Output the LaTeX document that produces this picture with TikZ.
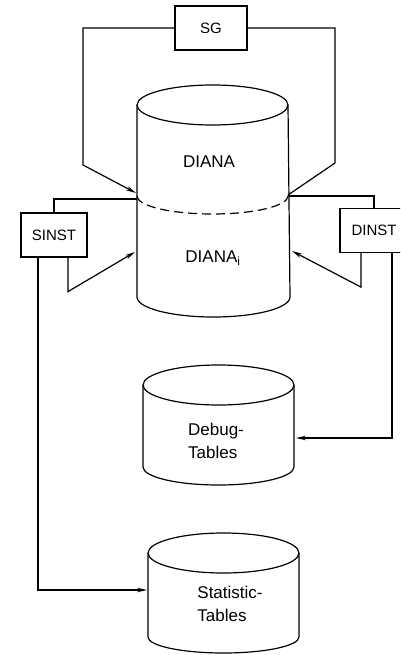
\documentclass[tikz,border=0pt]{standalone}
\usepackage{fontspec}
\setmainfont{Liberation Sans}
\usetikzlibrary{arrows.meta}
\begin{document}
\begin{tikzpicture}[x=1pt,y=1pt,
  line/.style={line width=1.2pt},
  arr/.style={line width=1.2pt,-{Stealth[length=10pt,width=4.5pt]}},
  box/.style={draw,line width=1.2pt,minimum height=44pt,inner sep=0pt,font=\fontsize{15}{17}\selectfont},
  lbl/.style={font=\fontsize{17}{23}\selectfont,align=left}]
\clip (0,0) rectangle (400,-655);
\fill[white] (0,0) rectangle (400,-655);
% DIANA cylinder
\draw[line] (212.5,-105) ellipse [x radius=75.5, y radius=20];
\draw[line] (137,-105) -- (137,-297) arc[start angle=180,end angle=360,x radius=76.5,y radius=20] -- (288,-105);
\draw[line,dash pattern=on 9pt off 5pt] (137,-196) arc[start angle=180,end angle=360,x radius=75.5,y radius=18];
% Debug cylinder
\draw[line] (218.5,-385) ellipse [x radius=75.5, y radius=20];
\draw[line] (143,-385) -- (143,-467) arc[start angle=180,end angle=360,x radius=75.5,y radius=18] -- (294,-385);
% Statistic cylinder
\draw[line] (223.5,-553) ellipse [x radius=75.5, y radius=20];
\draw[line] (148,-553) -- (148,-637) arc[start angle=180,end angle=360,x radius=75.5,y radius=16] -- (299,-553);
% labels
\node[lbl] (diana) at (209,-162) {DIANA};
\node[lbl] (dianai) at (213,-258) {DIANA\textsubscript{i}};
\node[lbl] (debug) at (216,-441) {Debug-\\Tables};
\node[lbl] (stat) at (230,-604) {Statistic-\\Tables};
% boxes
\node[box,minimum width=72pt] (SG) at (211,-28) {SG};
\node[box,minimum width=66pt] (SINST) at (54,-235) {SINST};
\node[box,minimum width=68pt] (DINST) at (374,-230.5) {DINST};
% connection points
\coordinate (dL) at (136,-193);
\coordinate (dR) at (288,-195);
\coordinate (cylL) at (137,-199);
\coordinate (cylR) at (288,-196);
\coordinate (aL) at (135,-252);
\coordinate (aR) at (292,-251);
\coordinate (debR) at (296,-438);
\coordinate (statL) at (147,-590);
% connectors
\draw[arr] (SG.west) -| (83,-165) -- (dL);
\draw[line] (SG.east) -| (335,-163) -- (dR);
\draw[line] (cylL) -| (SINST.north);
\draw[line] (cylR) -| (DINST.north);
\draw[arr] ([xshift=14pt]SINST.south) -- ++(0,-34) -- (aL);
\draw[arr] ([xshift=-16pt]SINST.south) |- (statL);
\draw[arr] ([xshift=-13pt]DINST.south) -- ++(0,-34) -- (aR);
\draw[arr] ([xshift=18pt]DINST.south) |- (debR);
\end{tikzpicture}
\end{document}
